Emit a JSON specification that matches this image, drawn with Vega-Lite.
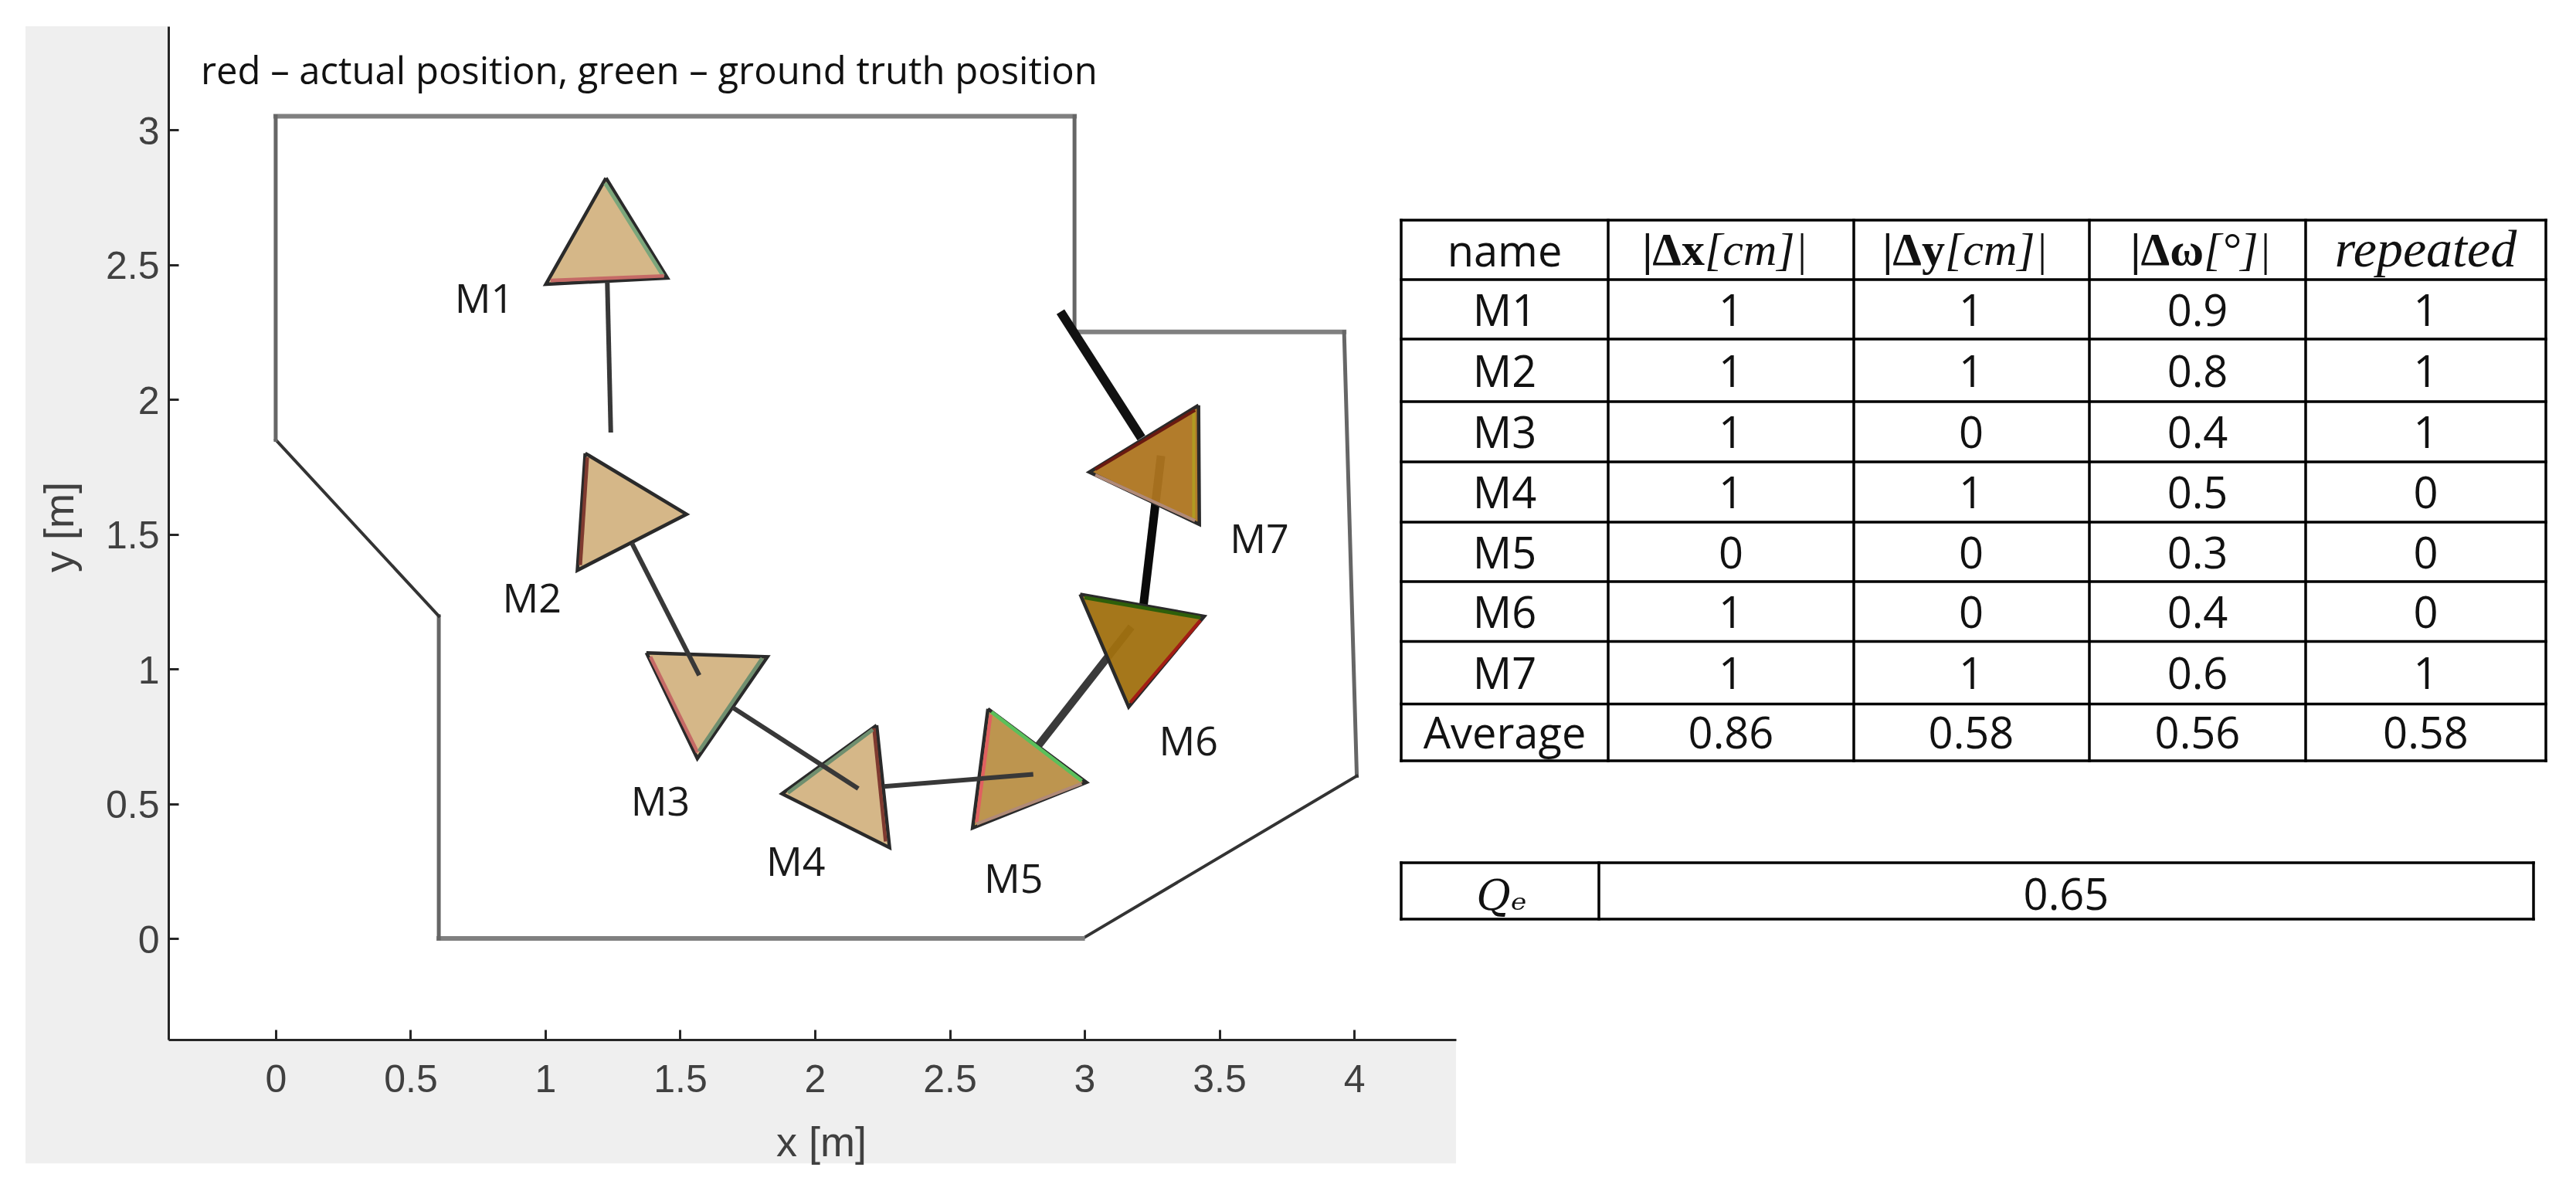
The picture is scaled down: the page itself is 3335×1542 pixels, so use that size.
{
"$schema":"https://vega.github.io/schema/vega-lite/v6.json",
"width":1667,"height":1312,"autosize":{"type":"none"},
"padding":{"left":218,"top":34,"right":1450,"bottom":196},
"background":"white",
"config":{"view":{"stroke":null}},
"datasets":{
"panel":[{"part":"frame","x0":-0.928,"x1":4.378,"y0":-0.834,"y1":3.384},{"part":"plot","x0":-0.398,"x1":4.378,"y0":-0.375,"y1":3.384}],
"room":[
{"side":"top","x":0,"y":3.05,"x2":2.963,"y2":3.05,"kind":"h"},
{"side":"notch","x":2.963,"y":3.05,"x2":2.963,"y2":2.25,"kind":"v"},
{"side":"upper","x":2.963,"y":2.25,"x2":3.963,"y2":2.25,"kind":"h"},
{"side":"right","x":3.963,"y":2.25,"x2":4.01,"y2":0.603,"kind":"v"},
{"side":"chamfer","x":4.01,"y":0.603,"x2":2.993,"y2":0,"kind":"d"},
{"side":"bottom","x":2.993,"y":0,"x2":0.605,"y2":0,"kind":"h"},
{"side":"inner","x":0.605,"y":0,"x2":0.605,"y2":1.196,"kind":"v"},
{"side":"slope","x":0.605,"y":1.196,"x2":0,"y2":1.85,"kind":"d"},
{"side":"left","x":0,"y":1.85,"x2":0,"y2":3.05,"kind":"v"}],
"paths":[
{"seg":"M1-M2","x":1.230,"y":2.436,"x2":1.243,"y2":1.877,"over":1},
{"seg":"M2-M3","x":1.321,"y":1.467,"x2":1.571,"y2":0.976,"over":1},
{"seg":"M3-M4","x":1.695,"y":0.857,"x2":2.161,"y2":0.556,"over":1},
{"seg":"M4-M5","x":2.256,"y":0.564,"x2":2.810,"y2":0.609,"over":1},
{"seg":"M5-M6","x":2.830,"y":0.717,"x2":3.174,"y2":1.156,"over":0},
{"seg":"M6-M7","x":3.218,"y":1.229,"x2":3.284,"y2":1.791,"over":0},
{"seg":"M7-end","x":3.211,"y":1.857,"x2":2.911,"y2":2.325,"over":0}],
"markers":[
{"m":"M1","v":0,"x":1.225,"y":2.821},{"m":"M1","v":1,"x":1.453,"y":2.450},{"m":"M1","v":2,"x":1.002,"y":2.427},{"m":"M1","v":3,"x":1.225,"y":2.821},
{"m":"M2","v":0,"x":1.148,"y":1.800},{"m":"M2","v":1,"x":1.524,"y":1.574},{"m":"M2","v":2,"x":1.119,"y":1.366},{"m":"M2","v":3,"x":1.148,"y":1.800},
{"m":"M3","v":0,"x":1.375,"y":1.060},{"m":"M3","v":1,"x":1.824,"y":1.045},{"m":"M3","v":2,"x":1.564,"y":0.668},{"m":"M3","v":3,"x":1.375,"y":1.060},
{"m":"M4","v":0,"x":2.229,"y":0.791},{"m":"M4","v":1,"x":1.878,"y":0.537},{"m":"M4","v":2,"x":2.277,"y":0.337},{"m":"M4","v":3,"x":2.229,"y":0.791},
{"m":"M5","v":0,"x":2.642,"y":0.852},{"m":"M5","v":1,"x":3.007,"y":0.579},{"m":"M5","v":2,"x":2.585,"y":0.410},{"m":"M5","v":3,"x":2.642,"y":0.852},
{"m":"M6","v":0,"x":2.984,"y":1.277},{"m":"M6","v":1,"x":3.444,"y":1.195},{"m":"M6","v":2,"x":3.164,"y":0.859},{"m":"M6","v":3,"x":2.984,"y":1.277},
{"m":"M7","v":0,"x":3.423,"y":1.978},{"m":"M7","v":1,"x":3.018,"y":1.730},{"m":"M7","v":2,"x":3.426,"y":1.536},{"m":"M7","v":3,"x":3.423,"y":1.978}],
"edges":[
{"m":"M1","pos":"truth","x":1.222,"y":2.802,"x2":1.437,"y2":2.458,"tone":"g1"},
{"m":"M1","pos":"actual","x":1.02,"y":2.441,"x2":1.44,"y2":2.458,"tone":"r1"},
{"m":"M2","pos":"actual","x":1.156,"y":1.785,"x2":1.130,"y2":1.385,"tone":"r2"},
{"m":"M3","pos":"actual","x":1.39,"y":1.045,"x2":1.565,"y2":0.69,"tone":"r1"},
{"m":"M3","pos":"truth","x":1.805,"y":1.04,"x2":1.57,"y2":0.695,"tone":"g2"},
{"m":"M4","pos":"actual","x":2.219,"y":0.78,"x2":2.262,"y2":0.36,"tone":"r2"},
{"m":"M4","pos":"truth","x":2.215,"y":0.775,"x2":1.90,"y2":0.54,"tone":"g2"},
{"m":"M5","pos":"actual","x":2.652,"y":0.83,"x2":2.60,"y2":0.43,"tone":"r3"},
{"m":"M5","pos":"truth","x":2.655,"y":0.84,"x2":2.99,"y2":0.585,"tone":"g3"},
{"m":"M5","pos":"actual","x":2.60,"y":0.425,"x2":2.99,"y2":0.575,"tone":"p1"},
{"m":"M6","pos":"truth","x":3.0,"y":1.265,"x2":3.43,"y2":1.19,"tone":"g4"},
{"m":"M6","pos":"actual","x":3.43,"y":1.18,"x2":3.17,"y2":0.875,"tone":"r4"},
{"m":"M7","pos":"truth","x":3.405,"y":1.95,"x2":3.405,"y2":1.56,"tone":"y1"},
{"m":"M7","pos":"actual","x":3.04,"y":1.72,"x2":3.41,"y2":1.55,"tone":"p1"},
{"m":"M7","pos":"actual","x":3.04,"y":1.74,"x2":3.41,"y2":1.96,"tone":"r5"}],
"labels":[
{"t":"M1","x":0.774,"y":2.367},{"t":"M2","x":0.951,"y":1.256},{"t":"M3","x":1.427,"y":0.501},{"t":"M4","x":1.929,"y":0.279},{"t":"M5","x":2.737,"y":0.215},{"t":"M6","x":3.386,"y":0.725},{"t":"M7","x":3.649,"y":1.477}],
"note":[{"t":"red – actual position, green – ground truth position","x":-0.278,"y":3.212}],
"cells":[
{"r":1,"c":0,"t":"M1"},{"r":1,"c":1,"t":"1"},{"r":1,"c":2,"t":"1"},{"r":1,"c":3,"t":"0.9"},{"r":1,"c":4,"t":"1"},
{"r":2,"c":0,"t":"M2"},{"r":2,"c":1,"t":"1"},{"r":2,"c":2,"t":"1"},{"r":2,"c":3,"t":"0.8"},{"r":2,"c":4,"t":"1"},
{"r":3,"c":0,"t":"M3"},{"r":3,"c":1,"t":"1"},{"r":3,"c":2,"t":"0"},{"r":3,"c":3,"t":"0.4"},{"r":3,"c":4,"t":"1"},
{"r":4,"c":0,"t":"M4"},{"r":4,"c":1,"t":"1"},{"r":4,"c":2,"t":"1"},{"r":4,"c":3,"t":"0.5"},{"r":4,"c":4,"t":"0"},
{"r":5,"c":0,"t":"M5"},{"r":5,"c":1,"t":"0"},{"r":5,"c":2,"t":"0"},{"r":5,"c":3,"t":"0.3"},{"r":5,"c":4,"t":"0"},
{"r":6,"c":0,"t":"M6"},{"r":6,"c":1,"t":"1"},{"r":6,"c":2,"t":"0"},{"r":6,"c":3,"t":"0.4"},{"r":6,"c":4,"t":"0"},
{"r":7,"c":0,"t":"M7"},{"r":7,"c":1,"t":"1"},{"r":7,"c":2,"t":"1"},{"r":7,"c":3,"t":"0.6"},{"r":7,"c":4,"t":"1"},
{"r":8,"c":0,"t":"Average"},{"r":8,"c":1,"t":"0.86"},{"r":8,"c":2,"t":"0.58"},{"r":8,"c":3,"t":"0.56"},{"r":8,"c":4,"t":"0.58"},
{"r":0,"c":0,"t":"name"}],
"headSplit":[{"c":1,"a":"|Δx","b":" [cm]|"},{"c":2,"a":"|Δy","b":" [cm]|"},{"c":3,"a":"|Δω","b":" [°]|"}],
"headItalic":[{"c":4,"t":"repeated"}],
"vEdges":[{"e":0},{"e":1},{"e":2},{"e":3},{"e":4},{"e":5}],
"hEdges":[{"e":0},{"e":1},{"e":2},{"e":3},{"e":4},{"e":5},{"e":6},{"e":7},{"e":8},{"e":9}],
"qV":[{"e":0},{"e":1},{"e":2}],
"qH":[{"e":0},{"e":1}],
"qText":[{"c":1,"t":"0.65"}],
"qName":[{"c":0,"t":"Qₑ"}]
},
"resolve":{"scale":{"x":"independent","y":"independent"}},
"layer":[
{"resolve":{"scale":{"fill":"independent","stroke":"independent","strokeWidth":"independent"}},
"layer":[
{"data":{"name":"panel"},"mark":{"type":"rect"},
 "encoding":{
  "x":{"field":"x0","type":"quantitative","scale":{"domain":[-0.398,4.378],"nice":false,"zero":false},
   "axis":{"title":"x [m]","values":[0,0.5,1,1.5,2,2.5,3,3.5,4],"format":"~g","grid":false,"zindex":1,"domainColor":"#262626","domainWidth":3,"tickColor":"#262626","tickWidth":3,"tickSize":-13,"labelFont":"Liberation Sans","labelFontSize":50,"labelColor":"#404040","labelPadding":40,"labelFlush":false,"labelOverlap":false,"titleFont":"Liberation Sans","titleFontSize":54,"titleFontWeight":"normal","titleColor":"#404040","titleX":845,"titleY":161,"titleBaseline":"bottom"}},
  "x2":{"field":"x1"},
  "y":{"field":"y0","type":"quantitative","scale":{"domain":[-0.375,3.384],"nice":false,"zero":false},
   "axis":{"title":"y [m]","values":[0,0.5,1,1.5,2,2.5,3],"format":"~g","grid":false,"zindex":1,"domainColor":"#262626","domainWidth":3,"tickColor":"#262626","tickWidth":3,"tickSize":-13,"labelFont":"Liberation Sans","labelFontSize":50,"labelColor":"#404040","labelPadding":25,"labelOffset":3,"labelFlush":false,"labelOverlap":false,"titleFont":"Liberation Sans","titleFontSize":54,"titleFontWeight":"normal","titleColor":"#404040","titleX":-140,"titleY":648,"titleBaseline":"middle"}},
  "y2":{"field":"y1"},
  "fill":{"field":"part","type":"nominal","scale":{"domain":["frame","plot"],"range":["#EFEFEF","#FFFFFF"]},"legend":null},
  "order":{"field":"x0","sort":"ascending"}}},
{"data":{"name":"room"},"mark":{"type":"rule","strokeCap":"square"},
 "encoding":{"x":{"field":"x","type":"quantitative"},"x2":{"field":"x2"},"y":{"field":"y","type":"quantitative"},"y2":{"field":"y2"},
  "stroke":{"field":"kind","type":"nominal","scale":{"domain":["h","v","d"],"range":["#808080","#666666","#333333"]},"legend":null},
  "strokeWidth":{"field":"kind","type":"nominal","scale":{"domain":["h","v","d"],"range":[6,4,3]},"legend":null}}},
{"data":{"name":"paths"},"transform":[{"filter":"datum.over==0"}],"mark":{"type":"rule","strokeCap":"butt"},
 "encoding":{"x":{"field":"x","type":"quantitative"},"x2":{"field":"x2"},"y":{"field":"y","type":"quantitative"},"y2":{"field":"y2"},
  "stroke":{"field":"seg","type":"nominal","scale":{"domain":["M5-M6","M6-M7","M7-end"],"range":["#3A3A3A","#0A0A0A","#111111"]},"legend":null},
  "strokeWidth":{"field":"seg","type":"nominal","scale":{"domain":["M5-M6","M6-M7","M7-end"],"range":[10,12,14]},"legend":null}}},
{"data":{"name":"markers"},"mark":{"type":"line","stroke":"#2A2A2A","strokeWidth":4.5,"strokeJoin":"miter","fillOpacity":0.95},
 "encoding":{"x":{"field":"x","type":"quantitative"},"y":{"field":"y","type":"quantitative"},"detail":{"field":"m"},"order":{"field":"v"},
  "fill":{"field":"m","type":"nominal","scale":{"domain":["M1","M2","M3","M4","M5","M6","M7"],"range":["#D3B382","#D3B382","#D3B382","#D3B382","#B98F46","#A0700F","#AE7520"]},"legend":null}}},
{"data":{"name":"edges"},"mark":{"type":"rule","strokeCap":"butt"},
 "encoding":{"x":{"field":"x","type":"quantitative"},"x2":{"field":"x2"},"y":{"field":"y","type":"quantitative"},"y2":{"field":"y2"},
  "stroke":{"field":"tone","type":"nominal","scale":{"domain":["g1","g2","g3","g4","r1","r2","r3","r4","r5","p1","y1"],"range":["#7BA67B","#6F8F6F","#5BC05B","#2E5F0A","#C56A66","#7F3A30","#E06060","#A31C14","#6A1A10","#B08A78","#B09A22"]},"legend":null},
  "strokeWidth":{"field":"tone","type":"nominal","scale":{"domain":["g1","g2","g3","g4","r1","r2","r3","r4","r5","p1","y1"],"range":[5,4,5,5,5,4,7,5,3,4,10]},"legend":null}}},
{"data":{"name":"paths"},"transform":[{"filter":"datum.over==1"}],"mark":{"type":"rule","strokeCap":"butt","stroke":"#383838"},
 "encoding":{"x":{"field":"x","type":"quantitative"},"x2":{"field":"x2"},"y":{"field":"y","type":"quantitative"},"y2":{"field":"y2"},
  "strokeWidth":{"field":"seg","type":"nominal","scale":{"domain":["M1-M2","M2-M3","M3-M4","M4-M5"],"range":[6,6,10,10]},"legend":null}}},
{"data":{"name":"labels"},"mark":{"type":"text","font":"Open Sans","fontSize":52,"fill":"#1A1A1A","align":"center","baseline":"middle"},
 "encoding":{"x":{"field":"x","type":"quantitative"},"y":{"field":"y","type":"quantitative"},"text":{"field":"t"}}},
{"data":{"name":"note"},"mark":{"type":"text","font":"Open Sans","fontSize":49,"fill":"#111111","align":"left","baseline":"middle"},
 "encoding":{"x":{"field":"x","type":"quantitative"},"y":{"field":"y","type":"quantitative"},"text":{"field":"t"}}}
]},
{"data":{"name":"vEdges"},"mark":{"type":"rule","stroke":"#000000","strokeWidth":3.5,"strokeCap":"square"},
 "encoding":{"x":{"field":"e","type":"quantitative","axis":null,"scale":{"domain":[0,1,2,3,4,5],"range":[1596,1864,2182,2487,2767,3078]}},
  "y":{"datum":0,"type":"quantitative","axis":null,"scale":{"domain":[0,9],"range":[251,951]}},"y2":{"datum":9}}},
{"data":{"name":"hEdges"},"mark":{"type":"rule","stroke":"#000000","strokeWidth":3.5,"strokeCap":"square"},
 "encoding":{"y":{"field":"e","type":"quantitative","axis":null,"scale":{"domain":[0,1,2,3,4,5,6,7,8,9],"range":[251,328,405,486,564,642,719,796.5,877.5,951]}},
  "x":{"datum":0,"type":"quantitative","axis":null,"scale":{"domain":[0,5],"range":[1596,3078]}},"x2":{"datum":5}}},
{"data":{"name":"cells"},"mark":{"type":"text","font":"Open Sans","fontSize":56,"fill":"#111111","align":"center","baseline":"middle"},
 "encoding":{"x":{"field":"c","type":"quantitative","axis":null,"scale":{"domain":[0,1,2,3,4],"range":[1730,2023,2334,2627,2922.5]}},
  "y":{"field":"r","type":"quantitative","axis":null,"scale":{"domain":[0,1,2,3,4,5,6,7,8],"range":[293.5,370.5,449.5,529,607,684.5,762,841,918]}},
  "text":{"field":"t"}}},
{"data":{"name":"headSplit"},"mark":{"type":"text","font":"Liberation Serif","fontWeight":"bold","fontSize":60,"fill":"#111111","align":"right","baseline":"middle"},
 "encoding":{"x":{"field":"c","type":"quantitative","axis":null,"scale":{"domain":[1,2,3],"range":[1989,2300,2635]}},
  "y":{"datum":0,"type":"quantitative","axis":null,"scale":{"domain":[0,1],"range":[291,368]}},
  "text":{"field":"a"}}},
{"data":{"name":"headSplit"},"mark":{"type":"text","font":"Liberation Serif","fontStyle":"italic","fontSize":60,"fill":"#111111","align":"left","baseline":"middle"},
 "encoding":{"x":{"field":"c","type":"quantitative","axis":null,"scale":{"domain":[1,2,3],"range":[1989,2300,2635]}},
  "y":{"datum":0,"type":"quantitative","axis":null,"scale":{"domain":[0,1],"range":[291,368]}},
  "text":{"field":"b"}}},
{"data":{"name":"headItalic"},"mark":{"type":"text","font":"Liberation Serif","fontStyle":"italic","fontSize":68,"fill":"#111111","align":"center","baseline":"middle"},
 "encoding":{"x":{"field":"c","type":"quantitative","axis":null,"scale":{"domain":[4,5],"range":[2922.5,3233]}},
  "y":{"datum":0,"type":"quantitative","axis":null,"scale":{"domain":[0,1],"range":[291,368]}},
  "text":{"field":"t"}}},
{"data":{"name":"qV"},"mark":{"type":"rule","stroke":"#000000","strokeWidth":3.5,"strokeCap":"square"},
 "encoding":{"x":{"field":"e","type":"quantitative","axis":null,"scale":{"domain":[0,1,2],"range":[1596,1852,3062]}},
  "y":{"datum":0,"type":"quantitative","axis":null,"scale":{"domain":[0,1],"range":[1083,1156]}},"y2":{"datum":1}}},
{"data":{"name":"qH"},"mark":{"type":"rule","stroke":"#000000","strokeWidth":3.5,"strokeCap":"square"},
 "encoding":{"y":{"field":"e","type":"quantitative","axis":null,"scale":{"domain":[0,1],"range":[1083,1156]}},
  "x":{"datum":0,"type":"quantitative","axis":null,"scale":{"domain":[0,1],"range":[1596,3062]}},"x2":{"datum":1}}},
{"data":{"name":"qText"},"mark":{"type":"text","font":"Open Sans","fontSize":56,"fill":"#111111","align":"center","baseline":"middle"},
 "encoding":{"x":{"field":"c","type":"quantitative","axis":null,"scale":{"domain":[0,1],"range":[1726,2457]}},
  "y":{"datum":0,"type":"quantitative","axis":null,"scale":{"domain":[0,1],"range":[1127,1204]}},
  "text":{"field":"t"}}},
{"data":{"name":"qName"},"mark":{"type":"text","font":"DejaVu Serif","fontStyle":"italic","fontSize":54,"fill":"#111111","align":"center","baseline":"middle"},
 "encoding":{"x":{"field":"c","type":"quantitative","axis":null,"scale":{"domain":[0,1],"range":[1726,2457]}},
  "y":{"datum":0,"type":"quantitative","axis":null,"scale":{"domain":[0,1],"range":[1128,1200]}},
  "text":{"field":"t"}}}
]
}
